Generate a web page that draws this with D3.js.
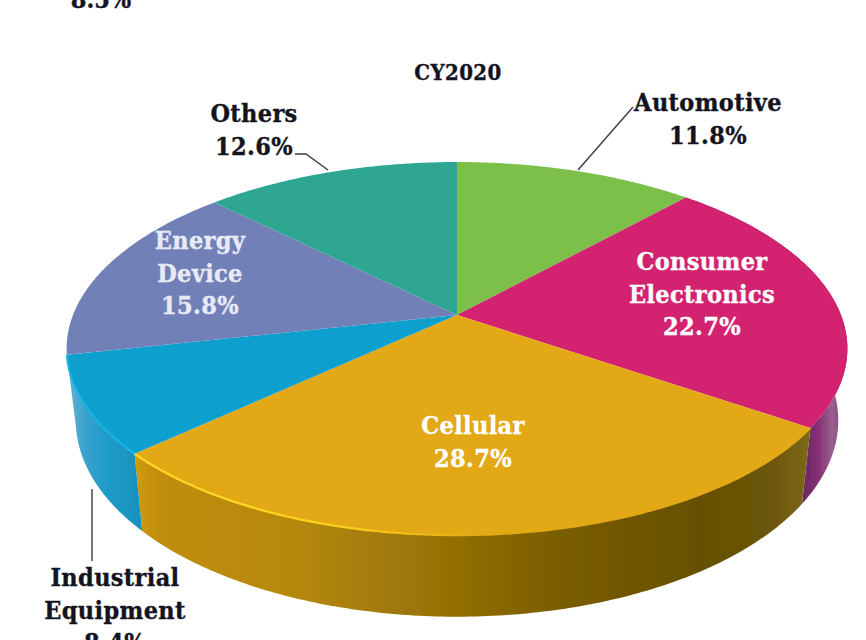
<!DOCTYPE html>
<html>
<head>
<meta charset="utf-8">
<script src="https://cdn.jsdelivr.net/npm/d3@7"></script>
<style>
html, body { margin: 0; padding: 0; background: #fff; overflow: hidden; }
text { font-family: "DejaVu Serif Condensed", "DejaVu Serif", serif; font-weight: bold; stroke-width: 0.35; paint-order: stroke; }
</style>
</head>
<body>
<svg id="svg"></svg>
<script>
var width = 866, height = 640;

var categories = ["Automotive", "Consumer Electronics", "Cellular", "Industrial Equipment", "Energy Device", "Others"];
var shares = [11.8, 22.7, 28.7, 8.4, 15.8, 12.6];
var title = "CY2020";
var clippedLabel = "8.5%";

// styling, one entry per category
var topColors = ["#7bbf4a", "#d2216f", "#e3a812", "#10a0cf", "#7280b8", "#2ea692"];
var labelLines = [["Automotive"], ["Consumer", "Electronics"], ["Cellular"], ["Industrial", "Equipment"], ["Energy", "Device"], ["Others"]];
var labelAt = [[708, 111], [702, 270], [473, 434], [115, 586], [200, 249], [254, 122]];
var labelFill = ["#14141e", "#fff", "#fff", "#14141e", "#e8ebf6", "#14141e"];
var sideStops = {
	1: [[805, "#6f2a63"], [818, "#842f75"], [832, "#9a6090"], [848, "#7d2d70"]],
	2: [[137, "#cf9a10"], [160, "#c08d0d"], [300, "#b5880c"], [440, "#967206"], [560, "#7a5d03"], [700, "#665002"], [770, "#6c5508"], [808, "#7a6718"]],
	3: [[66, "#6fb4d2"], [85, "#38a2cd"], [110, "#1c9ac8"], [145, "#1890ba"]]
};

var svg = d3.select("#svg")
	.attr("width", width)
	.attr("height", height)
	.style("display", "block");

var defs = svg.append("defs");
defs.append("filter").attr("id", "soft")
	.append("feGaussianBlur").attr("stdDeviation", 0.6);

// perspective disc: unit circle goes to the screen through a projective map
function disc(cx, cy, rx, ry, k) {
	return function(angle) {
		var u = Math.sin(angle), v = Math.cos(angle), w = 1 + k * v;
		return [cx + rx * u / w, cy - ry * v / w];
	};
}
var topDisc = disc(457, 315, 384, 180.5, 0.18);
var bottomDisc = disc(457, 385, 375, 190, 0.18);
var apex = [457, 315];

var pie = d3.pie().sort(null).value(function(d) { return d; });
var slices = pie(shares);
var line = d3.line();

function arcPoints(proj, d) {
	var n = Math.ceil((d.endAngle - d.startAngle) * 80);
	return d3.range(n + 1).map(function(i) {
		return proj(d.startAngle + (d.endAngle - d.startAngle) * i / n);
	});
}

Object.keys(sideStops).forEach(function(i) {
	var stops = sideStops[i];
	var x0 = stops[0][0], x1 = stops[stops.length - 1][0];
	var g = defs.append("linearGradient").attr("id", "side" + i)
		.attr("gradientUnits", "userSpaceOnUse")
		.attr("x1", x0).attr("x2", x1).attr("y1", 0).attr("y2", 0);
	stops.forEach(function(s) {
		g.append("stop").attr("offset", (s[0] - x0) / (x1 - x0)).attr("stop-color", s[1]);
	});
});

var rimGrad = defs.append("linearGradient").attr("id", "rimGold")
	.attr("gradientUnits", "userSpaceOnUse")
	.attr("x1", 137).attr("x2", 480).attr("y1", 0).attr("y2", 0);
rimGrad.append("stop").attr("offset", 0).attr("stop-color", "#ffd92a");
rimGrad.append("stop").attr("offset", 0.6).attr("stop-color", "#fbd020");
rimGrad.append("stop").attr("offset", 1).attr("stop-color", "#e3a812");

var pieG = svg.append("g").attr("filter", "url(#soft)");

// side walls, only the slices that face the viewer
pieG.selectAll(".side")
	.data(slices.filter(function(d) { return sideStops[d.index]; }))
	.enter().append("path")
	.attr("class", "side")
	.attr("fill", function(d) { return "url(#side" + d.index + ")"; })
	.attr("d", function(d) {
		return line(arcPoints(topDisc, d).concat(arcPoints(bottomDisc, d).reverse())) + "Z";
	});

// top face
pieG.selectAll(".slice")
	.data(slices)
	.enter().append("path")
	.attr("class", "slice")
	.attr("fill", function(d) { return topColors[d.index]; })
	.attr("d", function(d) {
		return line([apex].concat(arcPoints(topDisc, d))) + "Z";
	});

// bevel highlights on the front edge
pieG.append("path")
	.attr("fill", "none")
	.attr("stroke", "url(#rimGold)")
	.attr("stroke-width", 2.2)
	.attr("d", line(arcPoints(topDisc, slices[2])));
pieG.append("path")
	.attr("fill", "none")
	.attr("stroke", "#19b6e6")
	.attr("stroke-width", 2)
	.attr("d", line(arcPoints(topDisc, slices[3])));

// leader lines
var leaders = [
	[[578, 170], [633, 107]],
	[[295, 154], [306, 154], [328, 170]],
	[[92, 489], [92, 561]]
];
svg.selectAll(".leader")
	.data(leaders)
	.enter().append("path")
	.attr("class", "leader")
	.attr("fill", "none")
	.attr("stroke", "#3a3a44")
	.attr("stroke-width", 1.4)
	.attr("d", function(d) { return line(d); });

// labels
var fmt = d3.format(".1f");
var labels = svg.selectAll(".label")
	.data(slices)
	.enter().append("text")
	.attr("class", "label")
	.attr("text-anchor", "middle")
	.attr("font-size", 25)
	.attr("letter-spacing", 0.35)
	.attr("fill", function(d) { return labelFill[d.index]; })
	.attr("stroke", function(d) { return labelFill[d.index]; })
	.attr("transform", function(d) { return "translate(" + labelAt[d.index] + ")"; });

labels.each(function(d) {
	var t = d3.select(this);
	var rows = labelLines[d.index].concat([fmt(d.value) + "%"]);
	rows.forEach(function(r, i) {
		t.append("tspan").attr("x", 0).attr("y", i * 32.5).text(r);
	});
});

svg.append("text")
	.attr("x", 458).attr("y", 80)
	.attr("text-anchor", "middle")
	.attr("font-size", 22)
	.attr("letter-spacing", 0.4)
	.attr("fill", "#14141e")
	.attr("stroke", "#14141e")
	.text(title);

svg.append("text")
	.attr("x", 101).attr("y", 8)
	.attr("text-anchor", "middle")
	.attr("font-size", 25)
	.attr("fill", "#14141e")
	.attr("stroke", "#14141e")
	.text(clippedLabel);
</script>
</body>
</html>
